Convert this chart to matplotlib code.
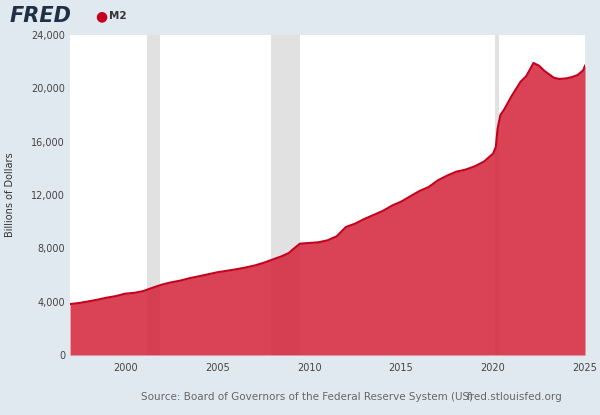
import matplotlib
matplotlib.use("Agg")
import matplotlib.pyplot as plt

years = [1997.0,1997.5,1998.0,1998.5,1999.0,1999.5,2000.0,2000.5,2001.0,2001.5,2002.0,2002.5,2003.0,2003.5,
         2004.0,2004.5,2005.0,2005.5,2006.0,2006.5,2007.0,2007.5,2008.0,2008.5,2008.9,2009.1,2009.5,2010.0,
         2010.5,2011.0,2011.5,2012.0,2012.5,2013.0,2013.5,2014.0,2014.5,2015.0,2015.5,2016.0,2016.5,2017.0,
         2017.5,2018.0,2018.5,2019.0,2019.5,2020.0,2020.15,2020.25,2020.4,2020.6,2021.0,2021.5,2021.8,2022.0,
         2022.2,2022.5,2022.8,2023.0,2023.3,2023.6,2024.0,2024.3,2024.6,2024.9,2025.0]
m2 = [3820,3900,4020,4150,4300,4420,4600,4660,4800,5050,5280,5450,5580,5760,5900,6050,6200,6310,6420,6550,
      6700,6900,7150,7400,7650,7900,8350,8400,8450,8600,8900,9600,9850,10200,10500,10800,11200,11500,11900,
      12300,12600,13100,13450,13750,13900,14150,14500,15100,15600,17000,18000,18400,19400,20500,20900,21400,
      21900,21700,21300,21100,20800,20700,20750,20850,21000,21350,21700]
recessions = [(2001.2, 2001.9), (2007.95, 2009.5), (2020.1, 2020.3)]
yticks = [0, 4000, 8000, 12000, 16000, 20000, 24000]
xticks = [2000, 2005, 2010, 2015, 2020, 2025]

bg = "#e1e9f0"
fig = plt.figure(figsize=(6.0, 4.15), dpi=100, facecolor=bg)
ax = fig.add_axes([70/600, 60/415, 515/600, 320/415])
ax.set_facecolor("white")
for a, b in recessions:
    ax.axvspan(a, b, color="#e1e1e1", lw=0, zorder=0)
ax.fill_between(years, m2, color="#d5293e", alpha=0.88, lw=0, zorder=2)
ax.plot(years, m2, color="#c4001e", lw=1.5, zorder=3)
ax.set_xlim(1997, 2025)
ax.set_ylim(0, 24000)
ax.set_yticks(yticks)
ax.set_yticklabels([f"{v:,}" for v in yticks])
ax.set_xticks(xticks)
ax.tick_params(labelsize=7, colors="#444444", length=0)
ax.tick_params(axis="x", pad=6)
for s in ax.spines.values():
    s.set_visible(False)
ax.set_ylabel("Billions of Dollars", fontsize=7, color="#333333", labelpad=12)
ax.grid(False)

fig.text(10/600, 1-16/415, "FRED", fontsize=15, fontweight="bold", color="#1f2f46", va="center", fontstyle="italic")
fig.text(95/600, 1-16/415, "●", fontsize=10, color="#c4001e", va="center")
fig.text(109/600, 1-16/415, "M2", fontsize=7.5, fontweight="bold", color="#333333", va="center")
fig.text(141/600, 1-397/415, "Source: Board of Governors of the Federal Reserve System (US)", fontsize=7.5, color="#666666", va="center")
fig.text(467/600, 1-397/415, "fred.stlouisfed.org", fontsize=7.5, color="#666666", va="center")
fig.savefig("out.png", dpi=100, facecolor=bg)
